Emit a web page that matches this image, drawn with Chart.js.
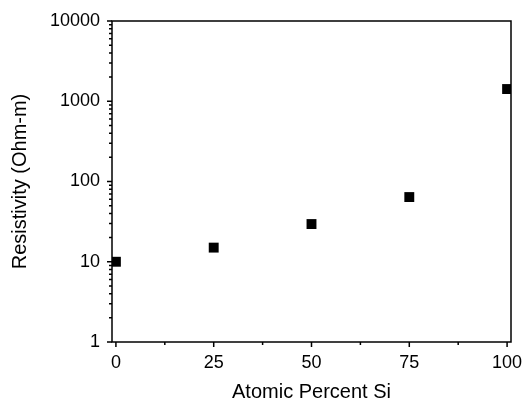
<!DOCTYPE html>
<html>
<head>
<meta charset="utf-8">
<script src="https://cdn.jsdelivr.net/npm/chart.js@4"></script>
<style>
  body { margin: 0; background: #fff; }
</style>
</head>
<body>
<canvas id="chart" width="523" height="401"></canvas>
<script>
// datos
const atomicPercent = [0, 25, 50, 75, 100];
const resistivity = [10, 15, 29.5, 64, 1420];
const xTickValues = [0, 25, 50, 75, 100];
const yTickValues = [1, 10, 100, 1000, 10000];

const FONT = "'Liberation Sans', Arial, sans-serif";

// marco y marcas (mayores y menores) hacia fuera
const frameTicks = {
  id: 'frameTicks',
  afterDatasetsDraw(chart) {
    const { ctx, chartArea: a, scales: { x, y } } = chart;
    ctx.save();
    ctx.strokeStyle = '#000';
    ctx.lineWidth = 1.5;
    ctx.strokeRect(a.left, a.top, a.right - a.left, a.bottom - a.top);
    ctx.beginPath();
    yTickValues.forEach((v, i) => {
      const py = y.getPixelForValue(v);
      ctx.moveTo(a.left - 5, py); ctx.lineTo(a.left, py);
      if (i < yTickValues.length - 1) {
        for (let k = 2; k <= 9; k++) {
          const p = y.getPixelForValue(v * k);
          ctx.moveTo(a.left - 3, p); ctx.lineTo(a.left, p);
        }
      }
    });
    xTickValues.forEach((v, i) => {
      const px = x.getPixelForValue(v);
      ctx.moveTo(px, a.bottom); ctx.lineTo(px, a.bottom + 5);
      if (i < xTickValues.length - 1) {
        const m = x.getPixelForValue((v + xTickValues[i + 1]) / 2);
        ctx.moveTo(m, a.bottom); ctx.lineTo(m, a.bottom + 3);
      }
    });
    ctx.stroke();
    ctx.restore();
  }
};

new Chart(document.getElementById('chart'), {
  type: 'scatter',
  data: {
    datasets: [{
      data: atomicPercent.map((v, i) => ({ x: v, y: resistivity[i] })),
      pointStyle: 'rect',
      pointRadius: 7,
      backgroundColor: '#000',
      borderColor: '#000',
      borderWidth: 0,
      clip: 0
    }]
  },
  options: {
    responsive: false,
    animation: false,
    layout: { padding: { top: 21, right: 12, bottom: 0, left: 0 } },
    plugins: { legend: { display: false }, tooltip: { enabled: false } },
    scales: {
      x: {
        type: 'linear', min: -1, max: 101,
        afterBuildTicks: s => { s.ticks = xTickValues.map(v => ({ value: v })); },
        afterFit: s => { s.height = 59; s.paddingLeft = 0; s.paddingRight = 0; },
        grid: { display: false, drawTicks: false },
        border: { display: false },
        ticks: { color: '#000', padding: 10, maxRotation: 0, font: { family: FONT, size: 18 }, callback: v => String(v) },
        title: { display: true, text: 'Atomic Percent Si', color: '#000', padding: { top: 0, bottom: -3 }, font: { family: FONT, size: 20 } }
      },
      y: {
        type: 'logarithmic', min: 1, max: 10000,
        afterBuildTicks: s => { s.ticks = yTickValues.map(v => ({ value: v })); },
        afterFit: s => { s.width = 112; s.paddingTop = 0; s.paddingBottom = 0; },
        grid: { display: false, drawTicks: false },
        border: { display: false },
        ticks: { color: '#000', padding: 12, font: { family: FONT, size: 18 }, callback: v => String(v) },
        title: { display: true, text: 'Resistivity (Ohm-m)', color: '#000', padding: { top: 8 }, font: { family: FONT, size: 20 } }
      }
    }
  },
  plugins: [frameTicks]
});
</script>
</body>
</html>
